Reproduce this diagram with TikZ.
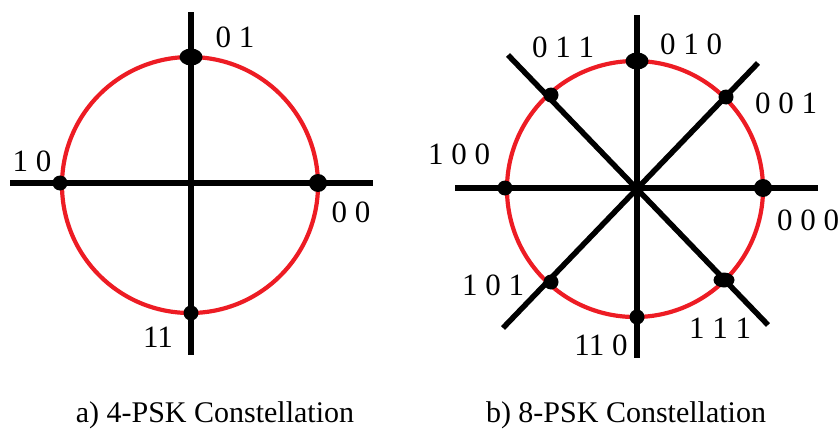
\documentclass[tikz,border=0pt]{standalone}
\usepackage{fontspec}
\usetikzlibrary{shapes.geometric}
\setmainfont{Liberation Serif}
\newfontfamily\pskserif{Liberation Serif}
\definecolor{ringred}{RGB}{237,28,36}
\begin{document}
\begin{tikzpicture}[x=1pt,y=-1pt,
  axis/.style={line width=5.5pt,black},
  ring/.style={line width=4.2pt,ringred},
  dot/.style={circle,fill=black,inner sep=0pt,minimum size=15pt},
  wdot/.style={ellipse,fill=black,inner sep=0pt,minimum width=23pt,minimum height=17pt},
  lab/.style={font=\pskserif\fontsize{31}{31}\selectfont,inner sep=0pt},
  captext/.style={font=\pskserif\fontsize{30}{30}\selectfont,inner sep=0pt}]
\useasboundingbox (0,0) rectangle (839,431);
% ---------- 4-PSK ----------
\coordinate (aW) at (10,183);
\coordinate (aE) at (373,183);
\coordinate (aN) at (191,12);
\coordinate (aS) at (191,355);
\draw[ring] (190,185) circle[radius=128];
\draw[axis] (aW) -- (aE);
\draw[axis] (aN) -- (aS);
\node[wdot] (p01) at (191,57) {};
\node[dot] (p10) at (60,183) {};
\node[dot,minimum width=18pt] (p00) at (318,183) {};
\node[dot] (p11) at (191,313) {};
\node[lab] (l01) at (235,37) {0 1};
\node[lab] (l10) at (32,161) {1 0};
\node[lab] (l00) at (351,212) {0 0};
\node[lab] (l11) at (158,337) {11};
\node[captext] (ca) at (215,415) {a) 4-PSK Constellation};
% ---------- 8-PSK ----------
\coordinate (bW) at (455,188);
\coordinate (bE) at (818,188);
\coordinate (bN) at (637,15);
\coordinate (bS) at (637,358);
\coordinate (bNW) at (508,55);
\coordinate (bSE) at (768,325);
\coordinate (bNE) at (758,63);
\coordinate (bSW) at (503,328);
\draw[ring] (635,189) circle[radius=128];
\draw[axis] (bW) -- (bE);
\draw[axis] (bN) -- (bS);
\draw[axis] (bNW) -- (bSE);
\draw[axis] (bNE) -- (bSW);
\node[dot,minimum width=18pt] (q000) at (763,188) {};
\node[dot] (q001) at (726,97) {};
\node[wdot] (q010) at (637,61) {};
\node[dot] (q011) at (551,95) {};
\node[dot] (q100) at (505,188) {};
\node[dot] (q101) at (551,282) {};
\node[dot] (q110) at (637,317) {};
\node[wdot,minimum width=21pt,minimum height=15pt] (q111) at (724,280) {};
\node[lab] (m011) at (563,47) {0 1 1};
\node[lab] (m010) at (691,44) {0 1 0};
\node[lab] (m001) at (786,103) {0 0 1};
\node[lab] (m100) at (459,154) {1 0 0};
\node[lab] (m000) at (808,220) {0 0 0};
\node[lab] (m101) at (493,285) {1 0 1};
\node[lab] (m111) at (720,328) {1 1 1};
\node[lab] (m110) at (601,345) {11 0};
\node[captext] (cb) at (626,415) {b) 8-PSK Constellation};
\end{tikzpicture}
\end{document}
